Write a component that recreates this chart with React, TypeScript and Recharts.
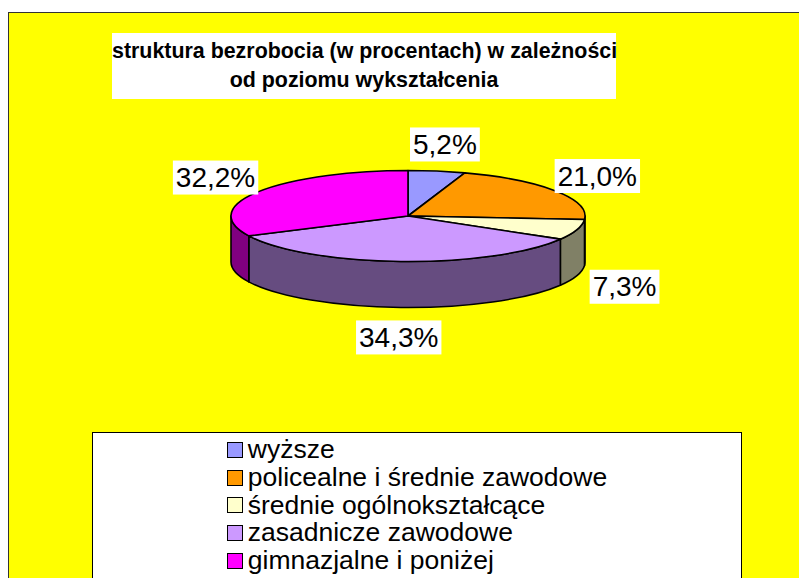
import React from 'react';
import { PieChart, Pie, Legend } from 'recharts';

const categories = [
  'wyższe',
  'policealne i średnie zawodowe',
  'średnie ogólnokształcące',
  'zasadnicze zawodowe',
  'gimnazjalne i poniżej',
];
const shares = [5.2, 21.0, 7.3, 34.3, 32.2];
const topColors = ['#9999FF', '#FF9900', '#FFFFCC', '#CC99FF', '#FF00FF'];
const sideColors = ['#4C4C80', '#804C00', '#808066', '#664C80', '#800080'];

const data = categories.map((name, i) => ({ name, value: shares[i], fill: topColors[i], side: sideColors[i] }));

const FONT = '"Liberation Sans", Arial, sans-serif';
const TILT = 0.257; // squash of the top face
const DEPTH = 46; // height of the side wall
const RAD = Math.PI / 180;
const LABEL_SIZE = 28;

// draws one slice as a tilted disc sector: top face plus the visible front wall
const Slice3D = (props: any) => {
  const { cx, cy, outerRadius, startAngle, endAngle, fill, payload } = props;
  const rx = outerRadius;
  const ry = outerRadius * TILT;
  const pt = (a: number, dy = 0) =>
    `${cx + rx * Math.cos(a * RAD)},${cy - ry * Math.sin(a * RAD) + dy}`;
  const hi = Math.max(startAngle, endAngle);
  const lo = Math.min(startAngle, endAngle);
  const big = hi - lo > 180 ? 1 : 0;
  const top = `M${cx},${cy} L${pt(hi)} A${rx},${ry} 0 ${big} 1 ${pt(lo)} Z`;
  const s = Math.min(hi, 0);
  const e = Math.max(lo, -180);
  const wall =
    s > e
      ? `M${pt(s)} A${rx},${ry} 0 0 1 ${pt(e)} L${pt(e, DEPTH)} A${rx},${ry} 0 0 0 ${pt(s, DEPTH)} Z`
      : null;
  const side = (payload && payload.side) || props.side || '#444';
  return (
    <g>
      {wall && <path d={wall} fill={side} stroke="#000" strokeWidth={1.6} strokeLinejoin="round" />}
      <path d={top} fill={fill} stroke="#000" strokeWidth={1.6} strokeLinejoin="round" />
    </g>
  );
};

const charW: Record<string, number> = { ',': 0.278, '%': 0.889 };

const renderLabel = (props: any) => {
  const { cx, cy, midAngle, value, outerRadius } = props;
  const sn = Math.sin(midAngle * RAD);
  const cs = Math.cos(midAngle * RAD);
  const x = cx + (outerRadius + 50) * cs;
  const y = cy - (outerRadius * TILT + 27) * sn + (sn < 0 ? DEPTH + 3 : 0);
  const text = value.toFixed(1).replace('.', ',') + '%';
  const w = text.split('').reduce((acc: number, ch: string) => acc + (charW[ch] ?? 0.556), 0) * LABEL_SIZE;
  return (
    <g>
      <rect x={x - w / 2 - 3} y={y - 17} width={w + 6} height={34} fill="#fff" />
      <text x={x} y={y} textAnchor="middle" dominantBaseline="central" fontSize={LABEL_SIZE} fontFamily={FONT} fill="#000">
        {text}
      </text>
    </g>
  );
};

const renderLegend = () => (
  <div style={{ display: 'flex', justifyContent: 'center', paddingTop: 3 }}>
    <div>
      {categories.map((name, i) => (
        <div key={name} style={{ display: 'flex', alignItems: 'center', height: 27.7, fontSize: 26.5, fontFamily: FONT, color: '#000', whiteSpace: 'nowrap' }}>
          <span
            style={{
              display: 'inline-block',
              width: 14,
              height: 14,
              border: '1.5px solid #000',
              background: topColors[i],
              marginRight: 5,
            }}
          />
          <span>{name}</span>
        </div>
      ))}
    </div>
  </div>
);

export default function App() {
  return (
    <div
      style={{
        position: 'absolute',
        left: 8,
        top: 12,
        width: 791,
        height: 566,
        boxSizing: 'border-box',
        borderLeft: '1px solid #333',
        borderTop: '1px solid #333',
        background: '#FFFF00',
        overflow: 'hidden',
      }}
    >
      <div
        style={{
          position: 'absolute',
          left: 103,
          top: 20,
          width: 504,
          height: 66,
          background: '#fff',
          textAlign: 'center',
          fontFamily: FONT,
          fontWeight: 'bold',
          fontSize: 21.4,
          lineHeight: '29px',
          paddingTop: 4,
          boxSizing: 'border-box',
          color: '#000',
          whiteSpace: 'nowrap',
        }}
      >
        struktura bezrobocia (w procentach) w zależności
        <br />
        od poziomu wykształcenia
      </div>
      <div style={{ position: 'absolute', left: 0, top: 0 }}>
        <PieChart width={790} height={565} margin={{ top: 0, right: 0, bottom: 0, left: 0 }}>
          <Pie
            data={data}
            dataKey="value"
            nameKey="name"
            cx={399}
            cy={203}
            outerRadius={177}
            startAngle={90}
            endAngle={-270}
            shape={Slice3D}
            activeShape={Slice3D}
            label={renderLabel}
            labelLine={false}
            isAnimationActive={false}
          />
          <Legend
            layout="horizontal"
            verticalAlign="bottom"
            align="left"
            content={renderLegend}
            wrapperStyle={{
              position: 'absolute',
              left: 83,
              top: 419,
              bottom: 'auto',
              width: 650,
              height: 160,
              background: '#fff',
              border: '1px solid #000',
              boxSizing: 'border-box',
            }}
          />
        </PieChart>
      </div>
    </div>
  );
}
